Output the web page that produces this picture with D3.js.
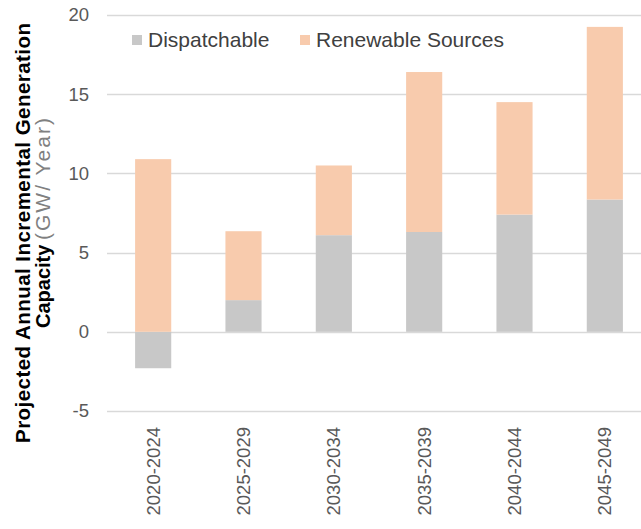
<!DOCTYPE html>
<html>
<head>
<meta charset="utf-8">
<script src="https://cdn.jsdelivr.net/npm/d3@7/dist/d3.min.js"></script>
<style>
  html, body { margin: 0; padding: 0; background: #fff; }
  svg { display: block; font-family: "Liberation Sans", Arial, sans-serif; }
</style>
</head>
<body>
<svg id="chart" width="641" height="529"></svg>
<script>
// Projected annual incremental generation capacity (GW/Year) by period
const periods = ["2020-2024", "2025-2029", "2030-2034", "2035-2039", "2040-2044", "2045-2049"];
const dispatchable = [-2.3, 2.0, 6.1, 6.3, 7.4, 8.35];
const renewable = [10.9, 4.35, 4.4, 10.1, 7.1, 10.9];
const yTicks = [-5, 0, 5, 10, 15, 20];
const seriesNames = ["Dispatchable", "Renewable Sources"];
const seriesColors = ["#c8c8c8", "#f8cbad"];

const svg = d3.select("#chart");
const plot = { left: 108, right: 650, top: 15, bottom: 411 };

const x = d3.scaleBand().domain(periods).range([plot.left, plot.right])
  .paddingInner(0.6).paddingOuter(0.3);
const y = d3.scaleLinear().domain([-5, 20]).range([plot.bottom, plot.top]);

// Horizontal gridlines
svg.append("g")
  .selectAll("line")
  .data(yTicks)
  .join("line")
  .attr("x1", plot.left - 1).attr("x2", 641)
  .attr("y1", d => Math.round(y(d)) + 0.5).attr("y2", d => Math.round(y(d)) + 0.5)
  .attr("stroke", "#d9d9d9").attr("stroke-width", 1.5);

// Y axis labels
const yAxis = svg.append("g")
  .attr("transform", "translate(89,0)")
  .call(d3.axisLeft(y).tickValues(yTicks).tickFormat(d => String(d)).tickSize(0).tickPadding(0));
yAxis.select(".domain").remove();
yAxis.selectAll("text")
  .attr("fill", "#595959")
  .style("font-size", "18.5px")
  .style("font-family", "'Liberation Sans', Arial, sans-serif");

// Stacked bars: dispatchable from zero, renewable stacked on positive dispatchable
const rows = periods.map((p, i) => ({ period: p, disp: dispatchable[i], ren: renewable[i] }));
const bars = svg.append("g");
rows.forEach(r => {
  const base = Math.max(0, r.disp);
  bars.append("rect")
    .attr("x", x(r.period)).attr("width", x.bandwidth())
    .attr("y", y(Math.max(0, r.disp))).attr("height", Math.abs(y(r.disp) - y(0)))
    .attr("fill", seriesColors[0]);
  bars.append("rect")
    .attr("x", x(r.period)).attr("width", x.bandwidth())
    .attr("y", y(base + r.ren)).attr("height", y(base) - y(base + r.ren))
    .attr("fill", seriesColors[1]);
});

// Category labels, rotated
const xAxis = svg.append("g")
  .attr("transform", "translate(0,427)")
  .call(d3.axisBottom(x).tickSize(0).tickPadding(0));
xAxis.select(".domain").remove();
xAxis.selectAll("text")
  .attr("transform", "rotate(-90)")
  .attr("text-anchor", "end")
  .attr("x", 0).attr("y", 0).attr("dy", "0.35em")
  .attr("fill", "#595959")
  .style("font-size", "18.5px")
  .style("font-family", "'Liberation Sans', Arial, sans-serif");

// Legend
const legend = svg.append("g").attr("transform", "translate(132,40)");
const legendX = [0, 168];
seriesNames.forEach((name, i) => {
  const g = legend.append("g").attr("transform", `translate(${legendX[i]},0)`);
  g.append("rect").attr("x", 0).attr("y", -5).attr("width", 10).attr("height", 10).attr("fill", seriesColors[i]);
  g.append("text").attr("x", 16).attr("y", 0).attr("dy", "0.35em")
    .attr("fill", "#404040").style("font-size", "21px").text(name);
});

// Y axis title (two rotated lines)
const titleG = svg.append("g").attr("transform", "rotate(-90)");
titleG.append("text")
  .attr("x", -443).attr("y", 30)
  .attr("textLength", 420).attr("lengthAdjust", "spacing")
  .attr("font-weight", "bold").attr("fill", "#000")
  .style("font-size", "20.5px")
  .text("Projected Annual Incremental Generation");
titleG.append("text")
  .attr("x", -328).attr("y", 50)
  .attr("font-weight", "bold").attr("fill", "#000")
  .style("font-size", "20px")
  .text("Capacity");
titleG.append("text")
  .attr("x", -240).attr("y", 50)
  .attr("textLength", 122).attr("lengthAdjust", "spacing")
  .attr("fill", "#808080")
  .style("font-size", "21px")
  .text("(GW/ Year)");
</script>
</body>
</html>
